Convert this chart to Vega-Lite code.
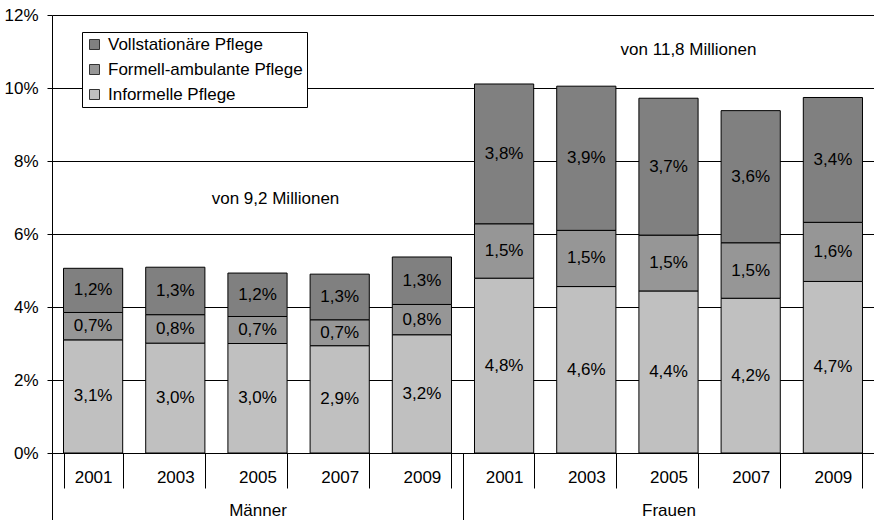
{
  "$schema": "https://vega.github.io/schema/vega-lite/v6.json",
  "width": 822,
  "height": 438,
  "autosize": {"type": "none"},
  "padding": {"left": 52, "top": 15, "right": 0, "bottom": 67},
  "background": "white",
  "config": {
    "view": {"stroke": null},
    "font": "Liberation Sans",
    "axis": {"labelFont": "Liberation Sans", "labelFontSize": 17, "labelColor": "black", "domainColor": "black", "tickColor": "black", "gridColor": "black", "gridOpacity": 1, "domainWidth": 1, "tickWidth": 1, "gridWidth": 1},
    "legend": {"labelFont": "Liberation Sans", "labelFontSize": 17, "labelColor": "black"}
  },
  "layer": [
    {
      "data": {
        "values": [
          {"kat": "M2001", "art": "Informelle Pflege", "rang": 1, "wert": 3.10, "txt": "3,1%"},
          {"kat": "M2001", "art": "Formell-ambulante Pflege", "rang": 2, "wert": 0.75, "txt": "0,7%"},
          {"kat": "M2001", "art": "Vollstationäre Pflege", "rang": 3, "wert": 1.21, "txt": "1,2%"},
          {"kat": "M2003", "art": "Informelle Pflege", "rang": 1, "wert": 3.01, "txt": "3,0%"},
          {"kat": "M2003", "art": "Formell-ambulante Pflege", "rang": 2, "wert": 0.78, "txt": "0,8%"},
          {"kat": "M2003", "art": "Vollstationäre Pflege", "rang": 3, "wert": 1.30, "txt": "1,3%"},
          {"kat": "M2005", "art": "Informelle Pflege", "rang": 1, "wert": 3.00, "txt": "3,0%"},
          {"kat": "M2005", "art": "Formell-ambulante Pflege", "rang": 2, "wert": 0.74, "txt": "0,7%"},
          {"kat": "M2005", "art": "Vollstationäre Pflege", "rang": 3, "wert": 1.19, "txt": "1,2%"},
          {"kat": "M2007", "art": "Informelle Pflege", "rang": 1, "wert": 2.94, "txt": "2,9%"},
          {"kat": "M2007", "art": "Formell-ambulante Pflege", "rang": 2, "wert": 0.71, "txt": "0,7%"},
          {"kat": "M2007", "art": "Vollstationäre Pflege", "rang": 3, "wert": 1.25, "txt": "1,3%"},
          {"kat": "M2009", "art": "Informelle Pflege", "rang": 1, "wert": 3.24, "txt": "3,2%"},
          {"kat": "M2009", "art": "Formell-ambulante Pflege", "rang": 2, "wert": 0.83, "txt": "0,8%"},
          {"kat": "M2009", "art": "Vollstationäre Pflege", "rang": 3, "wert": 1.30, "txt": "1,3%"},
          {"kat": "F2001", "art": "Informelle Pflege", "rang": 1, "wert": 4.79, "txt": "4,8%"},
          {"kat": "F2001", "art": "Formell-ambulante Pflege", "rang": 2, "wert": 1.49, "txt": "1,5%"},
          {"kat": "F2001", "art": "Vollstationäre Pflege", "rang": 3, "wert": 3.83, "txt": "3,8%"},
          {"kat": "F2003", "art": "Informelle Pflege", "rang": 1, "wert": 4.56, "txt": "4,6%"},
          {"kat": "F2003", "art": "Formell-ambulante Pflege", "rang": 2, "wert": 1.54, "txt": "1,5%"},
          {"kat": "F2003", "art": "Vollstationäre Pflege", "rang": 3, "wert": 3.95, "txt": "3,9%"},
          {"kat": "F2005", "art": "Informelle Pflege", "rang": 1, "wert": 4.44, "txt": "4,4%"},
          {"kat": "F2005", "art": "Formell-ambulante Pflege", "rang": 2, "wert": 1.53, "txt": "1,5%"},
          {"kat": "F2005", "art": "Vollstationäre Pflege", "rang": 3, "wert": 3.75, "txt": "3,7%"},
          {"kat": "F2007", "art": "Informelle Pflege", "rang": 1, "wert": 4.24, "txt": "4,2%"},
          {"kat": "F2007", "art": "Formell-ambulante Pflege", "rang": 2, "wert": 1.52, "txt": "1,5%"},
          {"kat": "F2007", "art": "Vollstationäre Pflege", "rang": 3, "wert": 3.62, "txt": "3,6%"},
          {"kat": "F2009", "art": "Informelle Pflege", "rang": 1, "wert": 4.70, "txt": "4,7%"},
          {"kat": "F2009", "art": "Formell-ambulante Pflege", "rang": 2, "wert": 1.62, "txt": "1,6%"},
          {"kat": "F2009", "art": "Vollstationäre Pflege", "rang": 3, "wert": 3.42, "txt": "3,4%"}
        ]
      },
      "transform": [
        {"stack": "wert", "groupby": ["kat"], "sort": [{"field": "rang", "order": "ascending"}], "as": ["w0", "w1"]},
        {"calculate": "(datum.w0 + datum.w1) / 2", "as": "wmid"}
      ],
      "layer": [
        {
          "mark": {"type": "bar", "stroke": "black", "strokeWidth": 1},
          "encoding": {
            "x": {
              "field": "kat", "type": "nominal",
              "scale": {"domain": ["M2001", "M2003", "M2005", "M2007", "M2009", "F2001", "F2003", "F2005", "F2007", "F2009"], "paddingInner": 0.28, "paddingOuter": 0.14},
              "axis": {"orient": "bottom", "title": null, "labelAngle": 0, "labelExpr": "isString(datum.value) ? substring(datum.value, 1) : ''", "tickBand": "extent", "tickSize": 35, "labelPadding": -19, "grid": false, "domain": true}
            },
            "y": {
              "field": "w0", "type": "quantitative",
              "scale": {"domain": [0, 12], "nice": false},
              "axis": {"title": null, "values": [0, 2, 4, 6, 8, 10, 12], "labelExpr": "datum.value + '%'", "tickSize": 5, "labelPadding": 9, "grid": true, "domain": true}
            },
            "y2": {"field": "w1"},
            "color": {
              "field": "art", "type": "nominal",
              "scale": {"domain": ["Vollstationäre Pflege", "Formell-ambulante Pflege", "Informelle Pflege"], "range": ["#808080", "#969696", "#C0C0C0"]},
              "legend": {"title": null, "orient": "none", "legendX": 30, "legendY": 17, "symbolType": "square", "symbolSize": 100, "symbolStrokeColor": "#333333", "symbolStrokeWidth": 1, "rowPadding": 7, "labelOffset": 5, "padding": 4, "strokeColor": "black", "fillColor": "white", "labelLimit": 400}
            }
          }
        },
        {
          "mark": {"type": "text", "fontSize": 17, "font": "Liberation Sans", "color": "black", "baseline": "middle"},
          "encoding": {
            "x": {"field": "kat", "type": "nominal"},
            "y": {"field": "wmid", "type": "quantitative"},
            "text": {"field": "txt", "type": "nominal"}
          }
        }
      ],
      "resolve": {"scale": {"x": "shared"}}
    },
    {
      "data": {
        "values": [
          {"sex": "Männer", "note": "von 9,2 Millionen"},
          {"sex": "Frauen", "note": "von 11,8 Millionen"}
        ]
      },
      "layer": [
        {
          "transform": [{"filter": "datum.sex === 'Männer'"}],
          "mark": {"type": "text", "fontSize": 17, "font": "Liberation Sans", "color": "black", "baseline": "middle", "dx": 18},
          "encoding": {
            "x": {
              "field": "sex", "type": "nominal",
              "scale": {"domain": ["Männer", "Frauen"], "paddingInner": 0, "paddingOuter": 0},
              "axis": {"orient": "bottom", "title": null, "labelAngle": 0, "labelExpr": "isString(datum.value) ? datum.value : ''", "tickBand": "extent", "tickSize": 67, "labelPadding": -18, "domain": false, "grid": false}
            },
            "y": {"datum": 6.96, "type": "quantitative"},
            "text": {"field": "note", "type": "nominal"}
          }
        },
        {
          "transform": [{"filter": "datum.sex === 'Frauen'"}],
          "mark": {"type": "text", "fontSize": 17, "font": "Liberation Sans", "color": "black", "baseline": "middle", "dx": 20},
          "encoding": {
            "x": {"field": "sex", "type": "nominal"},
            "y": {"datum": 11.04, "type": "quantitative"},
            "text": {"field": "note", "type": "nominal"}
          }
        }
      ],
      "resolve": {"scale": {"x": "shared"}}
    }
  ],
  "resolve": {"scale": {"x": "independent"}, "axis": {"x": "independent"}}
}
